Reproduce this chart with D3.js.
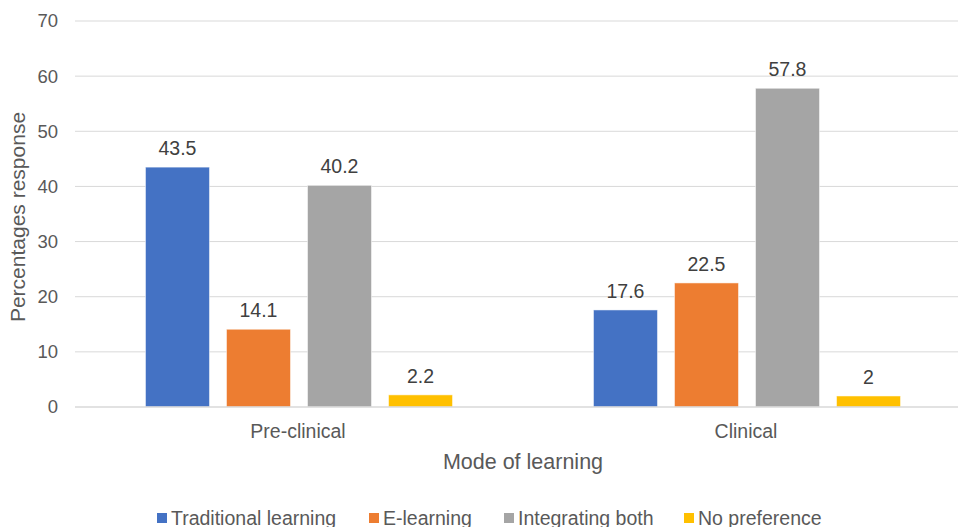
<!DOCTYPE html>
<html>
<head>
<meta charset="utf-8">
<script src="https://cdn.jsdelivr.net/npm/d3@7"></script>
<style>
  body { margin: 0; background: #fff; }
  text { font-family: "Liberation Sans", Arial, sans-serif; }
</style>
</head>
<body>
<script>
'use strict';

const categories = ["Pre-clinical", "Clinical"];
const series = ["Traditional learning", "E-learning", "Integrating both", "No preference"];
const colors = ["#4472c4", "#ed7d31", "#a5a5a5", "#ffc000"];
const traditional = [43.5, 17.6];
const eLearning = [14.1, 22.5];
const integrating = [40.2, 57.8];
const noPreference = [2.2, 2];
const yTicks = [0, 10, 20, 30, 40, 50, 60, 70];

const values = [traditional, eLearning, integrating, noPreference];

const width = 958, height = 527;
const plot = { left: 75, right: 971, top: 21, bottom: 407 };

const svg = d3.select("body").append("svg")
    .attr("width", width)
    .attr("height", height);

const y = d3.scaleLinear().domain([0, 70]).range([plot.bottom, plot.top]);
const x0 = d3.scaleBand().domain(categories).range([plot.left, plot.right]);
const x1 = d3.scaleBand().domain(series).range([0, x0.bandwidth()])
    .paddingInner(0.21).paddingOuter(0.87);

// gridlines
svg.append("g").selectAll("line")
    .data(yTicks.slice(1))
    .enter().append("line")
    .attr("x1", plot.left).attr("x2", plot.right)
    .attr("y1", d => y(d)).attr("y2", d => y(d))
    .attr("stroke", "#d9d9d9").attr("stroke-width", 1);

// y tick labels
svg.append("g").selectAll("text")
    .data(yTicks)
    .enter().append("text")
    .attr("x", 58).attr("y", d => y(d))
    .attr("dy", "0.35em")
    .attr("text-anchor", "end")
    .attr("font-size", 18.5)
    .attr("fill", "#595959")
    .text(d => d);

// bars
const groups = svg.append("g").selectAll("g")
    .data(categories)
    .enter().append("g")
    .attr("transform", d => "translate(" + x0(d) + ",0)");

groups.selectAll("rect")
    .data((c, ci) => series.map((s, si) => ({ s: s, i: si, v: values[si][ci] })))
    .enter().append("rect")
    .attr("x", d => x1(d.s))
    .attr("y", d => y(d.v))
    .attr("width", x1.bandwidth())
    .attr("height", d => y(0) - y(d.v))
    .attr("fill", d => colors[d.i])
    .attr("stroke", "#fff").attr("stroke-opacity", 0.5).attr("stroke-width", 1);

groups.selectAll("text")
    .data((c, ci) => series.map((s, si) => ({ s: s, i: si, v: values[si][ci] })))
    .enter().append("text")
    .attr("x", d => x1(d.s) + x1.bandwidth() / 2)
    .attr("y", d => y(d.v) - 12)
    .attr("text-anchor", "middle")
    .attr("font-size", 19.5)
    .attr("fill", "#404040")
    .text(d => d.v);

// baseline axis
svg.append("line")
    .attr("x1", plot.left).attr("x2", plot.right)
    .attr("y1", y(0)).attr("y2", y(0))
    .attr("stroke", "#d9d9d9").attr("stroke-width", 1.5);

// category labels
svg.append("g").selectAll("text")
    .data(categories)
    .enter().append("text")
    .attr("x", d => x0(d) + x0.bandwidth() / 2 - 1)
    .attr("y", 438)
    .attr("text-anchor", "middle")
    .attr("font-size", 19.5)
    .attr("fill", "#595959")
    .text(d => d);

// axis titles
svg.append("text")
    .attr("x", 523).attr("y", 469)
    .attr("text-anchor", "middle")
    .attr("font-size", 21.5)
    .attr("fill", "#595959")
    .text("Mode of learning");

svg.append("text")
    .attr("transform", "translate(25,217) rotate(-90)")
    .attr("text-anchor", "middle")
    .attr("font-size", 21)
    .attr("fill", "#595959")
    .text("Percentages response");

// legend
const legendX = [157, 369, 504, 684];
const legend = svg.append("g").selectAll("g")
    .data(series)
    .enter().append("g")
    .attr("transform", (d, i) => "translate(" + legendX[i] + ",513)");

legend.append("rect")
    .attr("width", 10).attr("height", 10)
    .attr("fill", (d, i) => colors[i]);

legend.append("text")
    .attr("x", 14).attr("y", 5)
    .attr("dy", "0.35em")
    .attr("font-size", 19.5)
    .attr("fill", "#595959")
    .text(d => d);
</script>
</body>
</html>
